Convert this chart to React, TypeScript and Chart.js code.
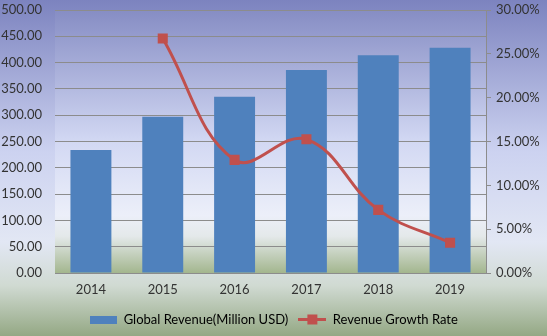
import React, { useEffect, useRef } from "react";
import { Chart, registerables } from "chart.js";
Chart.register(...registerables);

const years = ["2014", "2015", "2016", "2017", "2018", "2019"];
const revenue = [234, 297, 335, 386, 414, 428];
const growth = [null, 26.75, 12.9, 15.25, 7.2, 3.45];
const barLabel = "Global Revenue(Million USD)";
const lineLabel = "Revenue Growth Rate";

const BLUE = "#4f81bd";
const RED = "#c0504d";
const FONT = "Lato";

function makeBarIcon() {
  const c = document.createElement("canvas");
  c.width = 27;
  c.height = 8;
  const g = c.getContext("2d")!;
  g.fillStyle = BLUE;
  g.fillRect(0, 0, 27, 8);
  return c;
}
function makeLineIcon() {
  const c = document.createElement("canvas");
  c.width = 28;
  c.height = 11;
  const g = c.getContext("2d")!;
  g.strokeStyle = RED;
  g.lineWidth = 3;
  g.beginPath();
  g.moveTo(0, 5.5);
  g.lineTo(28, 5.5);
  g.stroke();
  g.fillStyle = RED;
  g.fillRect(9, 0.5, 10, 10);
  return c;
}

const bgPlugin = {
  id: "bg",
  beforeDraw(chart: any) {
    const { ctx, width, height, chartArea } = chart;
    ctx.save();
    const g = ctx.createLinearGradient(0, 0, 0, height);
    g.addColorStop(0, "#7c83bf");
    g.addColorStop(0.45, "#ccd2f0");
    g.addColorStop(0.72, "#e2e7f4");
    g.addColorStop(0.85, "#d0dad2");
    g.addColorStop(1, "#94a884");
    ctx.fillStyle = g;
    ctx.fillRect(0, 0, width, height);
    const { left, top, right, bottom } = chartArea;
    const p = ctx.createLinearGradient(0, top, 0, bottom);
    p.addColorStop(0, "#868dc4");
    p.addColorStop(0.5, "#d2d8f3");
    p.addColorStop(0.78, "#eceff9");
    p.addColorStop(0.86, "#e4e9ea");
    p.addColorStop(1, "#a3b68e");
    ctx.fillStyle = p;
    ctx.fillRect(left, top, right - left, bottom - top);
    ctx.restore();
  },
};

export default function App() {
  const ref = useRef<HTMLCanvasElement>(null);
  useEffect(() => {
    document.body.style.margin = "0";
    const barIcon = makeBarIcon();
    const lineIcon = makeLineIcon();
    const chart = new Chart(ref.current!, {
      type: "bar",
      data: {
        labels: years,
        datasets: [
          {
            type: "bar",
            label: barLabel,
            data: revenue,
            backgroundColor: BLUE,
            yAxisID: "y",
            barPercentage: 0.57,
            categoryPercentage: 1,
            order: 2,
          },
          {
            type: "line",
            label: lineLabel,
            data: growth as any,
            borderColor: RED,
            backgroundColor: RED,
            borderWidth: 3,
            pointStyle: "rect",
            pointRadius: 5,
            pointBackgroundColor: RED,
            pointBorderColor: RED,
            tension: 0.4,
            yAxisID: "y1",
            order: 1,
          },
        ],
      },
      options: {
        responsive: false,
        animation: false,
        layout: { padding: { top: 10, left: 0, right: 0, bottom: 0 } },
        plugins: {
          tooltip: { enabled: false },
          legend: {
            position: "bottom",
            labels: {
              usePointStyle: true,
              pointStyleWidth: 28,
              color: "#333333",
              font: { family: FONT, size: 13 },
              padding: 10,
              generateLabels: () => [
                { text: barLabel, pointStyle: barIcon as any, datasetIndex: 0, fillStyle: BLUE, strokeStyle: BLUE, lineWidth: 0, hidden: false } as any,
                { text: lineLabel, pointStyle: lineIcon as any, datasetIndex: 1, fillStyle: RED, strokeStyle: RED, lineWidth: 0, hidden: false } as any,
              ],
            },
          },
        },
        scales: {
          x: {
            grid: { display: false, drawTicks: false },
            border: { display: false },
            ticks: { color: "#333333", font: { family: FONT, size: 13 }, padding: 9 },
            afterFit: (s: any) => { s.height = 30; },
          },
          y: {
            position: "left",
            min: 0,
            max: 500,
            ticks: {
              stepSize: 50,
              color: "#333333",
              font: { family: FONT, size: 13 },
              padding: 13,
              callback: (v: any) => Number(v).toFixed(2),
            },
            grid: { color: "#8c8c8c", drawTicks: false, lineWidth: 1 },
            border: { display: false },
            afterFit: (s: any) => { s.width = 55; s.paddingTop = 0; s.paddingBottom = 0; },
          },
          y1: {
            position: "right",
            min: 0,
            max: 30,
            ticks: {
              stepSize: 5,
              color: "#333333",
              font: { family: FONT, size: 13 },
              padding: 5,
              callback: (v: any) => Number(v).toFixed(2) + "%",
            },
            grid: { drawOnChartArea: false, color: "#8c8c8c", tickLength: 5 },
            border: { display: true, color: "#8c8c8c" },
            afterFit: (s: any) => { s.width = 61; s.paddingTop = 0; s.paddingBottom = 0; },
          },
        },
      },
      plugins: [bgPlugin],
    });
    return () => chart.destroy();
  }, []);
  return (
    <div style={{ width: 547, height: 336 }}>
      <canvas ref={ref} width={547} height={336} />
    </div>
  );
}
